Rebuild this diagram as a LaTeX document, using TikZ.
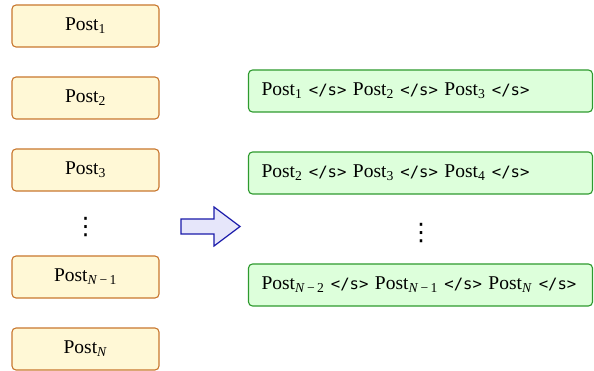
\documentclass[tikz,border=0pt]{standalone}
\usepackage{fontspec}
\setmainfont{Liberation Serif}
\newfontfamily\sepfont{DejaVu Sans Mono}[Scale=0.8]
\newfontfamily\dotsfont{DejaVu Sans}
\usetikzlibrary{positioning}
\definecolor{postfill}{HTML}{FFF8D6}
\definecolor{postdraw}{HTML}{C8772E}
\definecolor{seqfill}{HTML}{DDFFDB}
\definecolor{seqdraw}{HTML}{2E9A2E}
\definecolor{arrfill}{HTML}{E6E6FA}
\definecolor{arrdraw}{HTML}{1A1AAA}
\newcommand{\sep}{ {\sepfont </s>} }
\newcommand{\ps}[1]{Post\textsubscript{#1}}
\begin{document}
\begin{tikzpicture}[x=1pt,y=-1pt,
  postbox/.style={draw=postdraw,fill=postfill,line width=1.1pt,rounded corners=4pt,minimum width=147pt,minimum height=42pt,inner sep=0pt},
  seqbox/.style={draw=seqdraw,fill=seqfill,line width=1.1pt,rounded corners=4pt,minimum width=344pt,minimum height=42pt,inner sep=0pt,text width=318pt,align=left},
  vdotsnode/.style={inner sep=0pt,font=\dotsfont\fontsize{24}{24}\selectfont},
  arrowbox/.style={draw=arrdraw,fill=arrfill,line width=1.2pt,line join=miter},
  font=\fontsize{19.5}{23}\selectfont]
\useasboundingbox (0,0) rectangle (594,371);
\node[postbox] (p1) at (85.5,26) {\ps{1}};
\node[postbox] (p2) at (85.5,98) {\ps{2}};
\node[postbox] (p3) at (85.5,170) {\ps{3}};
\node[vdotsnode] (ld) at (85.5,227) {⋮};
\node[postbox] (pn1) at (85.5,277) {\ps{\textit{N}\,−\,1}};
\node[postbox] (pn) at (85.5,349) {\ps{\textit{N}}};

\node[seqbox] (s1) at (420.5,91) {\ps{1}\sep\ps{2}\sep\ps{3}\sep};
\node[seqbox] (s2) at (420.5,173) {\ps{2}\sep\ps{3}\sep\ps{4}\sep};
\node[vdotsnode] (rd) at (421,233) {⋮};
\node[seqbox] (s3) at (420.5,285) {\ps{\textit{N}\,−\,2}\sep\ps{\textit{N}\,−\,1}\sep\ps{\textit{N}}\sep};

\draw[arrowbox] (181,219) -- (214,219) -- (214,207) -- (240,226.5) -- (214,246) -- (214,234) -- (181,234) -- cycle;
\end{tikzpicture}
\end{document}
